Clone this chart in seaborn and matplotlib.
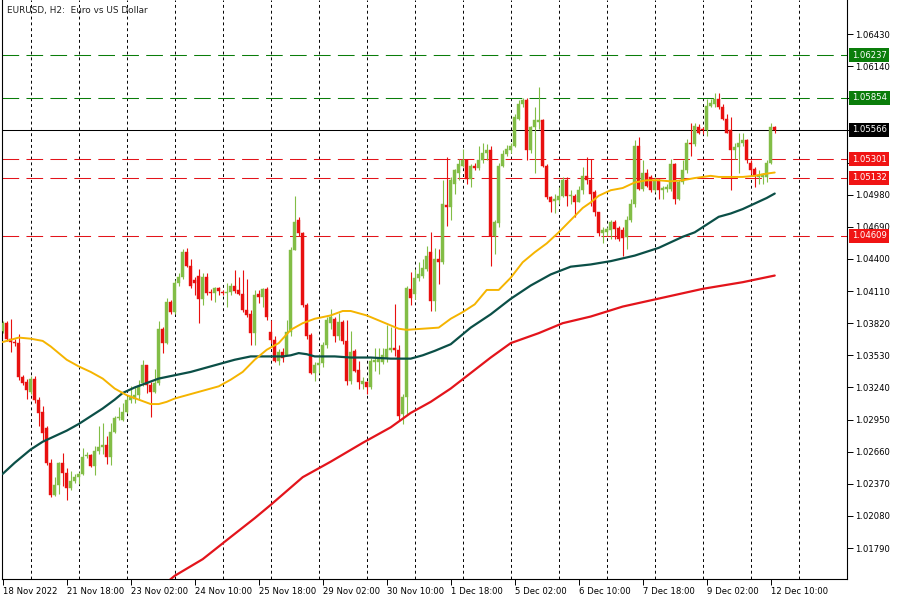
import numpy as np
import pandas as pd
import matplotlib
matplotlib.use("Agg")
import matplotlib.pyplot as plt
import matplotlib.transforms as mtransforms
import seaborn as sns

# EURUSD H2 candles, bar 0 = 18 Nov 2022 10:00, one bar every 2 hours (weekends skipped)
opens = [
    1.0375, 1.0382, 1.0368, 1.0365, 1.0364, 1.0333, 1.0329, 1.0320, 1.0332, 1.0313,
    1.0302, 1.0287, 1.0256, 1.0227, 1.0236, 1.0256, 1.0247, 1.0233, 1.0240, 1.0243,
    1.0246, 1.0262, 1.0263, 1.0253, 1.0267, 1.0270, 1.0272, 1.0261, 1.0284, 1.0296,
    1.0295, 1.0302, 1.0313, 1.0314, 1.0317, 1.0328, 1.0344, 1.0326, 1.0320, 1.0328,
    1.0377, 1.0364, 1.0401, 1.0392, 1.0418, 1.0424, 1.0446, 1.0434, 1.0421, 1.0425,
    1.0404, 1.0424, 1.0410, 1.0409, 1.0414, 1.0410, 1.0409, 1.0410, 1.0416, 1.0412,
    1.0408, 1.0394, 1.0390, 1.0373, 1.0408, 1.0406, 1.0413, 1.0374, 1.0367, 1.0348,
    1.0356, 1.0353, 1.0374, 1.0448, 1.0475, 1.0463, 1.0398, 1.0371, 1.0337, 1.0344,
    1.0346, 1.0362, 1.0382, 1.0386, 1.0370, 1.0383, 1.0366, 1.0330, 1.0357, 1.0340,
    1.0327, 1.0329, 1.0324, 1.0347, 1.0347, 1.0347, 1.0351, 1.0358, 1.0360, 1.0358,
    1.0300, 1.0315, 1.0413, 1.0408, 1.0423, 1.0425, 1.0431, 1.0446, 1.0402, 1.0440,
    1.0437, 1.0489, 1.0487, 1.0508, 1.0518, 1.0524, 1.0529, 1.0512, 1.0524, 1.0522,
    1.0529, 1.0536, 1.0538, 1.0461, 1.0472, 1.0524, 1.0535, 1.0538, 1.0542, 1.0566,
    1.0580, 1.0583, 1.0538, 1.0559, 1.0564, 1.0565, 1.0524, 1.0496, 1.0492, 1.0493,
    1.0497, 1.0511, 1.0497, 1.0497, 1.0491, 1.0502, 1.0515, 1.0511, 1.0500, 1.0482,
    1.0463, 1.0464, 1.0466, 1.0473, 1.0468, 1.0466, 1.0460, 1.0475, 1.0490, 1.0542,
    1.0503, 1.0518, 1.0514, 1.0502, 1.0511, 1.0502, 1.0503, 1.0503, 1.0526, 1.0494,
    1.0509, 1.0520, 1.0545, 1.0544, 1.0559, 1.0557, 1.0556, 1.0578, 1.0580, 1.0584,
    1.0577, 1.0566, 1.0556, 1.0538, 1.0541, 1.0545, 1.0547, 1.0527, 1.0521, 1.0514,
    1.0514, 1.0514, 1.0527, 1.0559,
]
highs = [
    1.0384, 1.0384, 1.0386, 1.0368, 1.0372, 1.0335, 1.0332, 1.0334, 1.0334, 1.0315,
    1.0307, 1.0289, 1.0259, 1.0243, 1.0257, 1.0265, 1.0251, 1.0249, 1.0246, 1.0248,
    1.0269, 1.0266, 1.0264, 1.0271, 1.0289, 1.0292, 1.0280, 1.0292, 1.0298, 1.0306,
    1.0310, 1.0316, 1.0325, 1.0325, 1.0331, 1.0349, 1.0344, 1.0329, 1.0341, 1.0384,
    1.0379, 1.0405, 1.0403, 1.0421, 1.0427, 1.0449, 1.0450, 1.0440, 1.0424, 1.0431,
    1.0427, 1.0427, 1.0413, 1.0415, 1.0415, 1.0412, 1.0418, 1.0418, 1.0430, 1.0424,
    1.0430, 1.0422, 1.0394, 1.0412, 1.0412, 1.0414, 1.0415, 1.0385, 1.0370, 1.0359,
    1.0360, 1.0385, 1.0451, 1.0497, 1.0478, 1.0464, 1.0400, 1.0373, 1.0347, 1.0354,
    1.0365, 1.0388, 1.0395, 1.0388, 1.0391, 1.0385, 1.0385, 1.0375, 1.0359, 1.0348,
    1.0333, 1.0330, 1.0351, 1.0360, 1.0360, 1.0360, 1.0380, 1.0379, 1.0399, 1.0362,
    1.0318, 1.0416, 1.0428, 1.0431, 1.0437, 1.0440, 1.0452, 1.0464, 1.0450, 1.0449,
    1.0511, 1.0532, 1.0514, 1.0521, 1.0530, 1.0539, 1.0530, 1.0526, 1.0527, 1.0542,
    1.0545, 1.0544, 1.0542, 1.0475, 1.0527, 1.0538, 1.0543, 1.0545, 1.0571, 1.0583,
    1.0585, 1.0585, 1.0560, 1.0577, 1.0595, 1.0566, 1.0526, 1.0497, 1.0499, 1.0505,
    1.0514, 1.0514, 1.0502, 1.0499, 1.0506, 1.0523, 1.0532, 1.0530, 1.0502, 1.0482,
    1.0469, 1.0469, 1.0475, 1.0475, 1.0470, 1.0469, 1.0479, 1.0494, 1.0547, 1.0550,
    1.0529, 1.0521, 1.0516, 1.0514, 1.0512, 1.0506, 1.0508, 1.0530, 1.0527, 1.0511,
    1.0529, 1.0548, 1.0563, 1.0563, 1.0562, 1.0559, 1.0584, 1.0584, 1.0590, 1.0590,
    1.0580, 1.0571, 1.0568, 1.0545, 1.0554, 1.0554, 1.0548, 1.0529, 1.0523, 1.0520,
    1.0518, 1.0529, 1.0563, 1.0560,
]
lows = [
    1.0373, 1.0366, 1.0356, 1.0361, 1.0331, 1.0326, 1.0314, 1.0318, 1.0310, 1.0289,
    1.0277, 1.0254, 1.0225, 1.0226, 1.0228, 1.0235, 1.0222, 1.0231, 1.0238, 1.0237,
    1.0245, 1.0260, 1.0252, 1.0245, 1.0264, 1.0264, 1.0255, 1.0254, 1.0283, 1.0295,
    1.0294, 1.0301, 1.0310, 1.0310, 1.0313, 1.0325, 1.0319, 1.0297, 1.0319, 1.0326,
    1.0355, 1.0363, 1.0390, 1.0390, 1.0416, 1.0422, 1.0433, 1.0414, 1.0407, 1.0382,
    1.0398, 1.0407, 1.0403, 1.0401, 1.0407, 1.0407, 1.0397, 1.0407, 1.0409, 1.0407,
    1.0392, 1.0388, 1.0362, 1.0362, 1.0400, 1.0397, 1.0385, 1.0364, 1.0347, 1.0344,
    1.0347, 1.0353, 1.0370, 1.0448, 1.0461, 1.0397, 1.0368, 1.0336, 1.0330, 1.0337,
    1.0342, 1.0360, 1.0377, 1.0365, 1.0367, 1.0363, 1.0326, 1.0327, 1.0338, 1.0323,
    1.0323, 1.0318, 1.0323, 1.0339, 1.0336, 1.0345, 1.0347, 1.0356, 1.0352, 1.0295,
    1.0291, 1.0300, 1.0398, 1.0404, 1.0420, 1.0423, 1.0429, 1.0393, 1.0393, 1.0417,
    1.0435, 1.0470, 1.0475, 1.0499, 1.0511, 1.0523, 1.0508, 1.0505, 1.0520, 1.0520,
    1.0527, 1.0529, 1.0434, 1.0444, 1.0469, 1.0523, 1.0533, 1.0536, 1.0541, 1.0565,
    1.0577, 1.0529, 1.0536, 1.0518, 1.0557, 1.0523, 1.0494, 1.0482, 1.0481, 1.0490,
    1.0496, 1.0488, 1.0490, 1.0478, 1.0491, 1.0499, 1.0508, 1.0488, 1.0479, 1.0461,
    1.0454, 1.0461, 1.0458, 1.0458, 1.0456, 1.0443, 1.0449, 1.0473, 1.0487, 1.0502,
    1.0501, 1.0505, 1.0500, 1.0500, 1.0494, 1.0494, 1.0500, 1.0501, 1.0490, 1.0493,
    1.0508, 1.0518, 1.0533, 1.0542, 1.0553, 1.0553, 1.0551, 1.0577, 1.0577, 1.0575,
    1.0565, 1.0554, 1.0502, 1.0530, 1.0518, 1.0542, 1.0527, 1.0517, 1.0505, 1.0508,
    1.0508, 1.0509, 1.0526, 1.0554,
]
closes = [
    1.0382, 1.0368, 1.0365, 1.0364, 1.0333, 1.0328, 1.0322, 1.0332, 1.0313, 1.0301,
    1.0283, 1.0256, 1.0227, 1.0236, 1.0256, 1.0247, 1.0233, 1.0240, 1.0243, 1.0246,
    1.0261, 1.0263, 1.0253, 1.0267, 1.0270, 1.0272, 1.0261, 1.0284, 1.0296, 1.0297,
    1.0302, 1.0313, 1.0316, 1.0317, 1.0325, 1.0344, 1.0326, 1.0320, 1.0328, 1.0377,
    1.0364, 1.0401, 1.0392, 1.0418, 1.0424, 1.0446, 1.0434, 1.0416, 1.0418, 1.0404,
    1.0424, 1.0409, 1.0409, 1.0414, 1.0411, 1.0409, 1.0410, 1.0416, 1.0411, 1.0408,
    1.0394, 1.0389, 1.0373, 1.0407, 1.0406, 1.0413, 1.0388, 1.0367, 1.0348, 1.0356,
    1.0351, 1.0374, 1.0448, 1.0473, 1.0463, 1.0398, 1.0370, 1.0337, 1.0344, 1.0346,
    1.0362, 1.0385, 1.0388, 1.0370, 1.0383, 1.0366, 1.0330, 1.0356, 1.0339, 1.0329,
    1.0330, 1.0324, 1.0348, 1.0349, 1.0350, 1.0353, 1.0359, 1.0360, 1.0358, 1.0298,
    1.0315, 1.0414, 1.0405, 1.0423, 1.0426, 1.0432, 1.0443, 1.0402, 1.0440, 1.0437,
    1.0490, 1.0487, 1.0511, 1.0520, 1.0526, 1.0529, 1.0512, 1.0524, 1.0522, 1.0529,
    1.0536, 1.0538, 1.0461, 1.0473, 1.0524, 1.0535, 1.0539, 1.0542, 1.0568, 1.0580,
    1.0583, 1.0538, 1.0559, 1.0565, 1.0565, 1.0524, 1.0496, 1.0491, 1.0494, 1.0497,
    1.0511, 1.0497, 1.0498, 1.0491, 1.0502, 1.0515, 1.0511, 1.0499, 1.0482, 1.0463,
    1.0466, 1.0467, 1.0473, 1.0467, 1.0458, 1.0459, 1.0475, 1.0490, 1.0542, 1.0503,
    1.0518, 1.0506, 1.0502, 1.0511, 1.0502, 1.0504, 1.0505, 1.0526, 1.0494, 1.0509,
    1.0520, 1.0545, 1.0544, 1.0560, 1.0554, 1.0556, 1.0578, 1.0581, 1.0584, 1.0577,
    1.0566, 1.0554, 1.0538, 1.0541, 1.0545, 1.0547, 1.0529, 1.0520, 1.0515, 1.0516,
    1.0517, 1.0527, 1.0559, 1.05566,
]

# moving averages (bar index, value)
ma_fast_bars = [0, 4, 7, 10, 12, 14, 16, 19, 22, 25, 28, 31, 34, 37, 39, 41, 43, 46, 49,
                54, 57, 60, 63, 66, 69, 72, 75, 78, 82, 85, 87, 91, 95, 97, 99, 101, 105,
                109, 112, 115, 118, 121, 124, 127, 130, 133, 136, 139, 142, 145, 147, 149,
                152, 155, 158, 161, 164, 167, 170, 173, 177, 179, 182, 185, 188, 191, 193]
ma_fast = [1.0365, 1.0369, 1.0368, 1.0366, 1.0361, 1.0355, 1.0349, 1.0343, 1.0338, 1.0332,
           1.0323, 1.0317, 1.0313, 1.0309, 1.0309, 1.0311, 1.0314, 1.0317, 1.0320, 1.0325,
           1.0331, 1.0338, 1.0349, 1.0358, 1.0364, 1.0376, 1.0382, 1.0386, 1.0389, 1.0393,
           1.0393, 1.0389, 1.0383, 1.0380, 1.0377, 1.0376, 1.0377, 1.0378, 1.0386, 1.0392,
           1.0399, 1.0412, 1.0412, 1.0423, 1.0437, 1.0446, 1.0454, 1.0464, 1.0475, 1.0486,
           1.0491, 1.0497, 1.0502, 1.0504, 1.0509, 1.0511, 1.0511, 1.0510, 1.0511, 1.0513,
           1.0515, 1.0514, 1.0514, 1.0514, 1.0515, 1.0517, 1.0518]

ma_mid_bars = [0, 3, 7, 10, 13, 16, 19, 22, 25, 28, 30, 33, 36, 39, 43, 47, 52, 55, 58, 62,
               66, 70, 72, 74, 76, 78, 83, 87, 92, 97, 102, 105, 108, 112, 117, 122, 127,
               132, 137, 142, 147, 152, 158, 164, 170, 173, 176, 179, 182, 185, 188, 191, 193]
ma_mid = [1.0246, 1.0256, 1.0268, 1.0275, 1.0280, 1.0285, 1.0291, 1.0298, 1.0305, 1.0313,
          1.0319, 1.0324, 1.0328, 1.0332, 1.0335, 1.0338, 1.0343, 1.0346, 1.0349, 1.0352,
          1.0352, 1.0352, 1.0353, 1.0355, 1.0354, 1.0352, 1.0352, 1.0351, 1.0351, 1.0350,
          1.0350, 1.0353, 1.0357, 1.0363, 1.0378, 1.0390, 1.0404, 1.0416, 1.0426, 1.0433,
          1.0435, 1.0438, 1.0443, 1.0450, 1.0460, 1.0464, 1.0471, 1.0478, 1.0481, 1.0485,
          1.0490, 1.0495, 1.0499]

ma_slow_bars = [40, 43, 50, 57, 63, 67, 75, 82, 90, 97, 102, 107, 112, 117, 122, 127, 134,
                140, 147, 155, 165, 175, 185, 193]
ma_slow = [1.0145, 1.0154, 1.0169, 1.0189, 1.0206, 1.0218, 1.0243, 1.0257, 1.0274, 1.0288,
           1.0301, 1.0311, 1.0323, 1.0337, 1.0351, 1.0364, 1.0373, 1.0382, 1.0388, 1.0397,
           1.0405, 1.0413, 1.0419, 1.0425]

# horizontal levels
green_levels = [1.06237, 1.05854]
red_levels = [1.05301, 1.05132, 1.04609]
last_price = 1.05566

y_ticks = [1.01790, 1.02080, 1.02370, 1.02660, 1.02950, 1.03240, 1.03530, 1.03820, 1.04110,
           1.04400, 1.04690, 1.04980, 1.05270, 1.05560, 1.05850, 1.06140, 1.06430]
# scale labels that sit under the coloured price tags
hidden_ticks = [1.05270, 1.05560, 1.05850]
x_tick_labels = ["18 Nov 2022", "21 Nov 18:00", "23 Nov 02:00", "24 Nov 10:00",
                 "25 Nov 18:00", "29 Nov 02:00", "30 Nov 10:00", "1 Dec 18:00",
                 "5 Dec 02:00", "6 Dec 10:00", "7 Dec 18:00", "9 Dec 02:00", "12 Dec 10:00"]

sns.set_style("white")
plt.rcParams['font.family'] = ['DejaVu Sans']

UP = '#82bd46'
DOWN = '#e8100f'
FS = 6.1

df = pd.DataFrame({'open': opens, 'high': highs, 'low': lows, 'close': closes})
df['bar'] = np.arange(len(df))
df['up'] = df['close'] >= df['open']
df['color'] = np.where(df['up'], UP, DOWN)
df['body_lo'] = df[['open', 'close']].min(axis=1)
df['body_h'] = (df['close'] - df['open']).abs().clip(lower=0.00003)

fig = plt.figure(figsize=(9, 6), dpi=100)
ax = fig.add_axes([2 / 900, 21 / 600, 845 / 900, 579 / 600])

ax.set_xlim(-0.175, 211.07)
ax.set_ylim(1.01511, 1.06737)

# daily grid
for gx in range(7, 212, 12):
    ax.axvline(gx, color='black', lw=0.7, ls=(0, (3, 3)), zorder=0)

# levels
for lv in green_levels:
    ax.axhline(lv, color='#0a7d0a', lw=0.75, ls=(0, (16, 7)), zorder=1)
for lv in red_levels:
    ax.axhline(lv, color='#e3141b', lw=0.75, ls=(0, (16, 7)), zorder=1)
ax.axhline(last_price, color='black', lw=0.75, zorder=1)

# candles
ax.vlines(df['bar'], df['low'], df['high'], colors=df['color'], lw=0.8, zorder=2)
ax.bar(df['bar'], df['body_h'], bottom=df['body_lo'], width=0.74,
       color=df['color'], edgecolor=df['color'], lw=0.3, zorder=3)

# moving averages
sns.lineplot(x=ma_slow_bars, y=ma_slow, ax=ax, color='#e3141b', lw=1.6, zorder=4)
sns.lineplot(x=ma_mid_bars, y=ma_mid, ax=ax, color='#0b4f47', lw=1.6, zorder=4)
sns.lineplot(x=ma_fast_bars, y=ma_fast, ax=ax, color='#f5b400', lw=1.4, zorder=4)

# axes styling
for s in ['left', 'bottom', 'right']:
    ax.spines[s].set_color('black')
    ax.spines[s].set_linewidth(0.8)
ax.spines['top'].set_visible(False)

ax.yaxis.tick_right()
ax.set_yticks(y_ticks)
ax.set_yticklabels(["" if v in hidden_ticks else f"{v:.5f}" for v in y_ticks])
ax.tick_params(axis='y', direction='out', length=4, width=0.7, pad=1.5,
               labelsize=FS, colors='black', right=True, left=False)

ax.set_xticks(range(0, len(df), 16))
ax.set_xticklabels(x_tick_labels, ha='left')
ax.tick_params(axis='x', direction='out', length=4, width=0.7, pad=1.5,
               labelsize=FS, colors='black', bottom=True)
ax.set_xlabel('')
ax.set_ylabel('')

# price tags on the right
tag_tr = mtransforms.offset_copy(
    mtransforms.blended_transform_factory(ax.transAxes, ax.transData),
    fig=fig, x=5, y=0, units='dots')
for lv in green_levels:
    ax.text(1.0, lv, f"{lv:.5f}", transform=tag_tr, ha='left', va='center',
            fontsize=FS, color='white', clip_on=False, zorder=6,
            bbox=dict(boxstyle='square,pad=0.3', fc='#0a7d0a', ec='none'))
for lv in red_levels:
    ax.text(1.0, lv, f"{lv:.5f}", transform=tag_tr, ha='left', va='center',
            fontsize=FS, color='white', clip_on=False, zorder=6,
            bbox=dict(boxstyle='square,pad=0.3', fc='#f01414', ec='none'))
ax.text(1.0, last_price, f"{last_price:.5f}", transform=tag_tr, ha='left', va='center',
        fontsize=FS, color='white', clip_on=False, zorder=6,
        bbox=dict(boxstyle='square,pad=0.3', fc='black', ec='none'))

fig.text(7 / 900, 1 - 10 / 600, "EURUSD, H2:  Euro vs US Dollar", fontsize=6.4,
         color='#222222', va='center', ha='left')

fig.savefig('out.png', dpi=100)
